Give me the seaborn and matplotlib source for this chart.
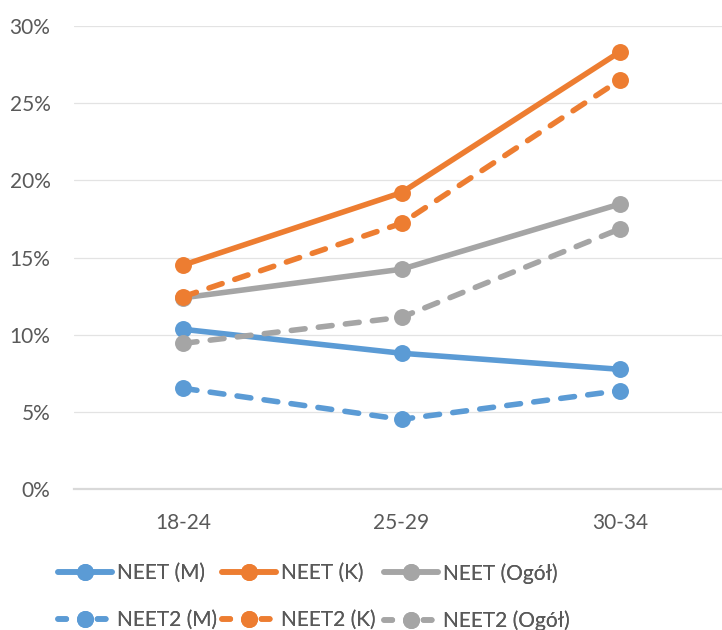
import matplotlib
matplotlib.use("Agg")
import matplotlib.pyplot as plt
from matplotlib.ticker import PercentFormatter, MultipleLocator
from matplotlib.lines import Line2D
import seaborn as sns
import pandas as pd

# Age groups on the x axis
age_groups = ["18-24", "25-29", "30-34"]

# NEET rates (%) by sex and total
neet_m = [10.36, 8.81, 7.77]
neet_k = [14.52, 19.21, 28.32]
neet_ogol = [12.40, 14.25, 18.47]
neet2_m = [6.54, 4.53, 6.39]
neet2_k = [12.47, 17.22, 26.50]
neet2_ogol = [9.45, 11.14, 16.86]

series_names = ["NEET (M)", "NEET (K)", "NEET (Ogół)",
                "NEET2 (M)", "NEET2 (K)", "NEET2 (Ogół)"]
series_values = [neet_m, neet_k, neet_ogol, neet2_m, neet2_k, neet2_ogol]

BLUE, ORANGE, GRAY = "#5B9BD5", "#ED7D31", "#A5A5A5"
colors = [BLUE, ORANGE, GRAY, BLUE, ORANGE, GRAY]
dashed = [False, False, False, True, True, True]

rows = []
for name, vals in zip(series_names, series_values):
    for g, v in zip(age_groups, vals):
        rows.append({"seria": name, "wiek": g, "wartosc": v / 100.0})
df = pd.DataFrame(rows)

sns.set_theme(style="white")
plt.rcParams["font.family"] = ["Lato", "DejaVu Sans"]

W, H = 722, 630
fig = plt.figure(figsize=(W / 100, H / 100), dpi=100)
left, right = 74, 729
bottom, top = 489.3, 26
ax = fig.add_axes([left / W, (H - bottom) / H, (right - left) / W, (bottom - top) / H])

LW = 4.0
MS = 12.2
DASH = (2.5, 2.4)

for name, col, dsh in zip(series_names, colors, dashed):
    sub = df[df["seria"] == name]
    sns.lineplot(data=sub, x="wiek", y="wartosc", ax=ax, color=col,
                 linewidth=LW, marker="o", markersize=MS, markeredgewidth=0,
                 sort=False, legend=False, clip_on=False)
    line = ax.lines[-1]
    line.set_solid_capstyle("round")
    line.set_dash_capstyle("round")
    if dsh:
        line.set_dashes(DASH)

ax.set_xlim(-0.5, 2.5)
ax.set_ylim(0, 0.30)
ax.yaxis.set_major_locator(MultipleLocator(0.05))
ax.yaxis.set_major_formatter(PercentFormatter(1.0, decimals=0))
ax.set_xlabel("")
ax.set_ylabel("")

ax.grid(axis="y", color="#E3E3E3", linewidth=0.9)
ax.grid(axis="x", visible=False)
ax.set_axisbelow(True)
for s in ["left", "right", "top"]:
    ax.spines[s].set_visible(False)
ax.spines["bottom"].set_color("#D9D9D9")
ax.spines["bottom"].set_linewidth(1.6)

ax.tick_params(axis="y", length=0, pad=17, labelsize=15, labelcolor="#595959")
ax.tick_params(axis="x", length=0, pad=17, labelsize=15, labelcolor="#595959")

# Legend: three columns, solid series on top row, dashed below
groups = [(0, 3), (1, 4), (2, 5)]
col_x = [58, 222, 384]
for (i_solid, i_dash), x0 in zip(groups, col_x):
    handles = []
    for i in (i_solid, i_dash):
        h = Line2D([], [], color=colors[i], linewidth=LW, marker="o",
                   markersize=MS, markeredgewidth=0,
                   solid_capstyle="round", dash_capstyle="round")
        if dashed[i]:
            h.set_dashes((1.5, 5.6))
        handles.append(h)
    leg = fig.legend(handles, [series_names[i_solid], series_names[i_dash]],
                     loc="upper left", bbox_to_anchor=(x0 / W, (H - 563) / H),
                     frameon=False, fontsize=15, labelcolor="#595959",
                     handlelength=2.6, handletextpad=0.25, labelspacing=1.3,
                     borderpad=0, borderaxespad=0)
    fig.add_artist(leg)

fig.savefig("out.png", dpi=100)
